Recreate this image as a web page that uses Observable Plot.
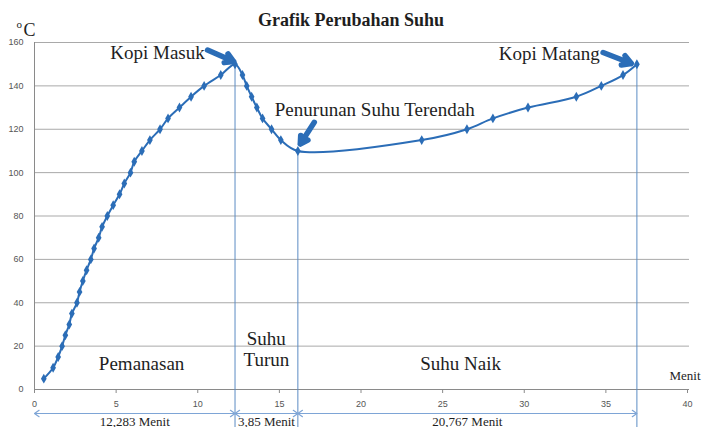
<!DOCTYPE html>
<html>
<head>
<meta charset="utf-8">
<script src="https://cdn.jsdelivr.net/npm/d3@7"></script>
<script src="https://cdn.jsdelivr.net/npm/@observablehq/plot@0.6"></script>
<style>
  html, body { margin: 0; padding: 0; background: #ffffff; }
  svg { display: block; }
</style>
</head>
<body>
<div id="chart"></div>
<script>
// ---- data ----
const minutes = [0.57, 1.14, 1.45, 1.69, 1.89, 2.13, 2.29, 2.6, 2.76, 2.96, 3.19, 3.45, 3.65, 3.93, 4.14, 4.46, 4.82, 5.21, 5.5, 5.88, 6.11, 6.58, 7.07, 7.69, 8.18, 8.88, 9.59, 10.39, 11.41, 12.283,
                 12.74, 13.0, 13.3, 13.62, 13.97, 14.52, 15.09, 16.133,
                 23.72, 26.49, 28.08, 30.23, 33.19, 34.72, 36.05, 36.9];
const celsius = [5, 10, 15, 20, 25, 30, 35, 40, 45, 50, 55, 60, 65, 70, 75, 80, 85, 90, 95, 100, 105, 110, 115, 120, 125, 130, 135, 140, 145, 150,
                 145, 140, 135, 130, 125, 120, 115, 110,
                 115, 120, 125, 130, 135, 140, 145, 150];

const xTicks = [0, 5, 10, 15, 20, 25, 30, 35, 40];
const yTicks = [0, 20, 40, 60, 80, 100, 120, 140, 160];

const phaseStart = [0, 12.283, 16.133];
const phaseEnd = [12.283, 16.133, 36.9];
const phaseDuration = ["12,283 Menit", "3,85 Menit", "20,767 Menit"];
const phaseName = ["Pemanasan", "Suhu\nTurun", "Suhu Naik"];
const phaseLabelX = [6.56, 14.2, 26.1];

const boundaryMinutes = [12.283, 16.133, 36.9];
const boundaryCelsius = [150, 110, 150];

const noteText = ["Kopi Masuk", "Penurunan Suhu Terendah", "Kopi Matang"];
const noteX = [10.43, 14.72, 34.62];
const noteY = [155.2, 129.1, 154.7];
const noteAlign = ["end", "start", "end"];
const arrowFromX = [10.6, 17.14, 34.83];
const arrowFromY = [156.5, 123.2, 155.4];
const arrowToX = [12.2, 16.28, 36.56];
const arrowToY = [151.2, 113.2, 150.3];

const titleText = "Grafik Perubahan Suhu";
const unitY = "C";
const unitYDegree = "o";
const unitX = "Menit";

// ---- tables for the library ----
const data = minutes.map((m, i) => ({m, c: celsius[i]}));
const phases = phaseStart.map((s, i) => ({start: s, end: phaseEnd[i], mid: (s + phaseEnd[i]) / 2, dur: phaseDuration[i], name: phaseName[i], lx: phaseLabelX[i]}));
const bounds = boundaryMinutes.map((m, i) => ({m, c: boundaryCelsius[i]}));
const notes = noteText.map((t, i) => ({t, x: noteX[i], y: noteY[i], align: noteAlign[i], x1: arrowFromX[i], y1: arrowFromY[i], x2: arrowToX[i], y2: arrowToY[i]}));

const blue = "#2b6db7";
const serif = "'Liberation Serif', 'DejaVu Serif', serif";
const sans = "'Liberation Sans', 'DejaVu Sans', sans-serif";
const ink = "#1e1e1e";
const zero = () => 0;

const chart = Plot.plot({
  width: 702,
  height: 427,
  marginTop: 42,
  marginLeft: 34,
  marginRight: 15,
  marginBottom: 38,
  style: {background: "#ffffff", fontFamily: serif},
  x: {domain: [0, 40]},
  y: {domain: [0, 160]},
  marks: [
    Plot.ruleY(yTicks.filter(d => d > 0), {stroke: "#a9a9a9", strokeWidth: 1, insetRight: -2}),
    Plot.ruleY([0], {stroke: "#8a8a8a", insetRight: -2}),
    Plot.ruleX([0], {stroke: "#8a8a8a"}),
    Plot.axisY(yTicks, {tickSize: 0, tickPadding: 11, fontSize: 9, color: "#555", fontFamily: sans, label: null}),
    Plot.axisX(xTicks, {tickSize: 4, tickPadding: 7, fontSize: 9, color: "#555", stroke: "#8a8a8a", fontFamily: sans, label: null}),
    Plot.ruleX(bounds, {x: "m", y1: "c", y2: zero, stroke: "#5b8cc4", strokeWidth: 1, insetBottom: -40}),
    Plot.arrow(phases, {x1: "mid", x2: "start", y1: zero, y2: zero, dy: 24, stroke: "#7ea5d6", strokeWidth: 1.2, headLength: 7, headAngle: 70}),
    Plot.arrow(phases, {x1: "mid", x2: "end", y1: zero, y2: zero, dy: 24, stroke: "#7ea5d6", strokeWidth: 1.2, headLength: 7, headAngle: 70}),
    Plot.text(phases, {x: "mid", text: "dur", frameAnchor: "bottom", dy: 36, fontSize: 13, fill: ink}),
    Plot.text(phases.filter((d, i) => i !== 1), {x: "lx", text: "name", frameAnchor: "bottom", dy: -20, fontSize: 19, fill: ink}),
    Plot.text(phases.filter((d, i) => i === 1), {x: "lx", text: "name", frameAnchor: "bottom", dy: -24, fontSize: 19, lineHeight: 1.1, fill: ink}),
    Plot.line(data, {x: "m", y: "c", stroke: blue, strokeWidth: 2, curve: "catmull-rom"}),
    Plot.dot(data, {x: "m", y: "c", symbol: "diamond", r: 3, fill: blue, stroke: null}),
    Plot.arrow(notes, {x1: "x1", y1: "y1", x2: "x2", y2: "y2", stroke: blue, strokeWidth: 5.5, headLength: 10}),
    Plot.text(notes.filter(d => d.align === "end"), {x: "x", y: "y", text: "t", textAnchor: "end", fontSize: 19, fill: ink}),
    Plot.text(notes.filter(d => d.align === "start"), {x: "x", y: "y", text: "t", textAnchor: "start", fontSize: 19, fill: ink}),
    Plot.text([titleText], {frameAnchor: "top", dx: -10, dy: -29, fontSize: 18, fontWeight: "bold", fill: ink}),
    Plot.text([unitY], {frameAnchor: "top-left", textAnchor: "start", lineAnchor: "bottom", dx: -11, dy: -7, fontSize: 18, fill: ink}),
    Plot.text([unitYDegree], {frameAnchor: "top-left", textAnchor: "start", lineAnchor: "bottom", dx: -18, dy: -15, fontSize: 11, fill: ink}),
    Plot.text([unitX], {frameAnchor: "bottom-right", textAnchor: "end", dx: 13, dy: -10, fontSize: 13, fill: ink})
  ]
});
document.getElementById("chart").append(chart);
</script>
</body>
</html>
